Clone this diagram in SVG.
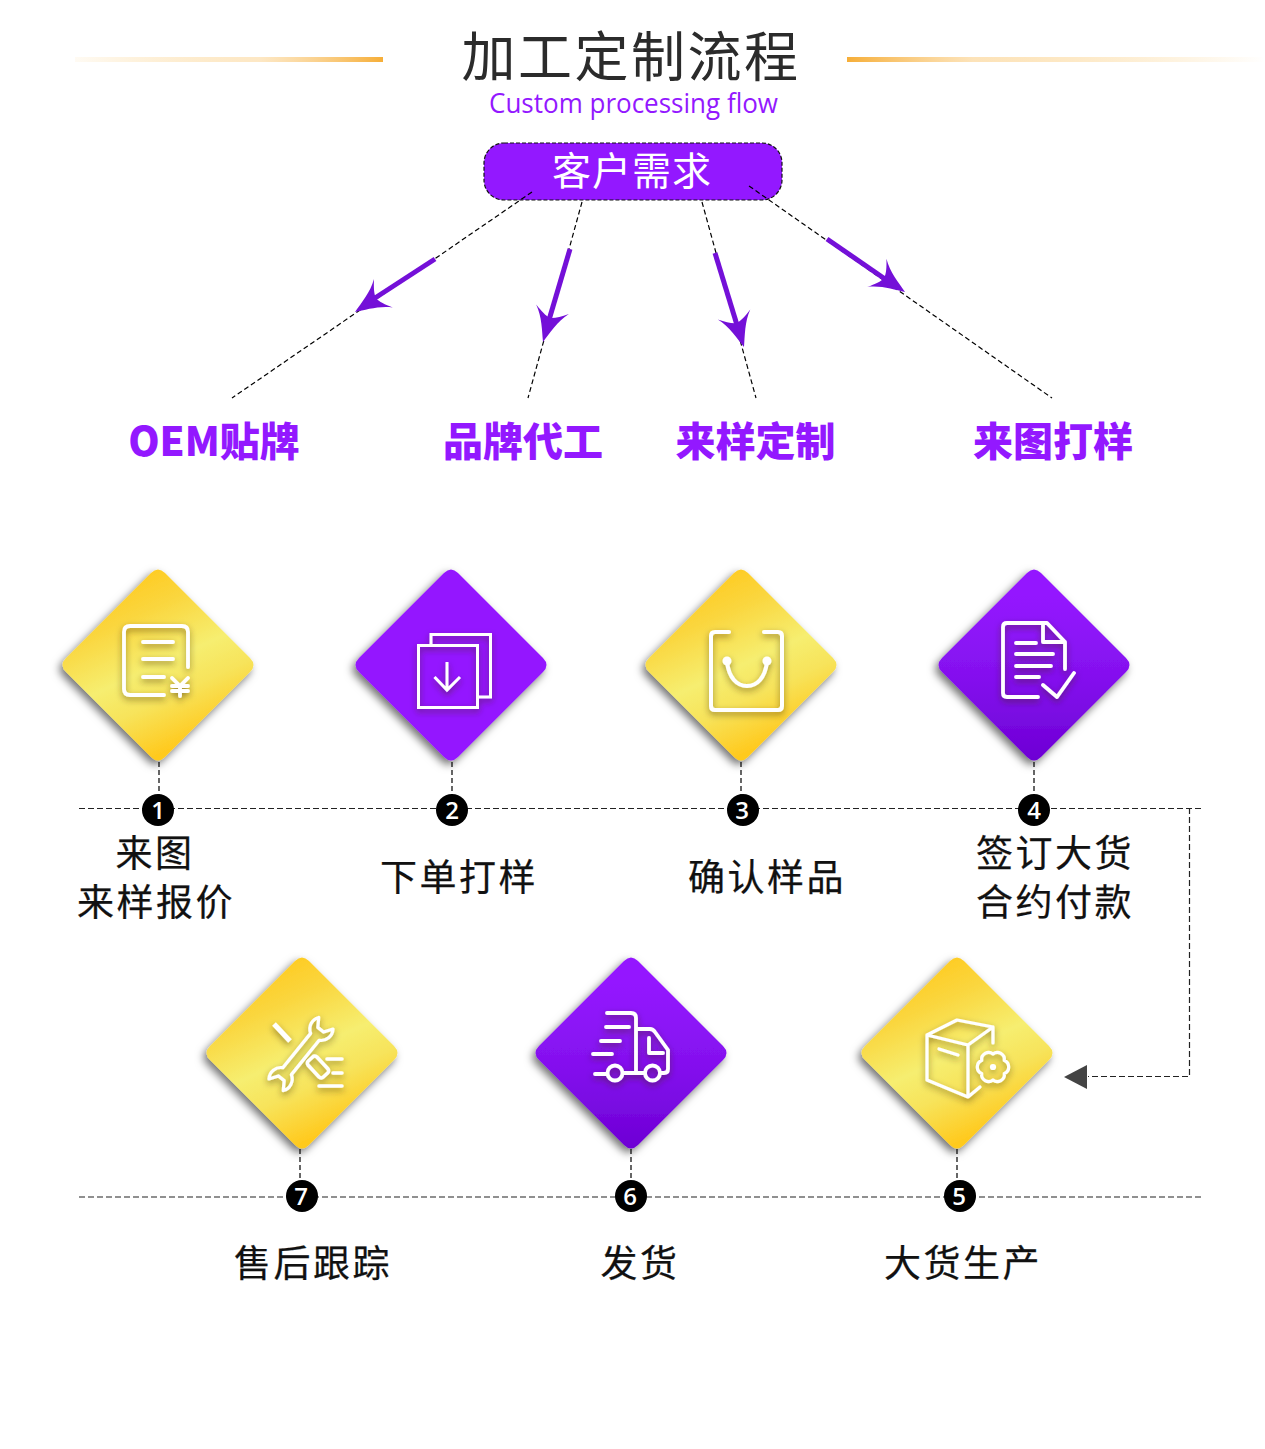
<svg xmlns="http://www.w3.org/2000/svg" xmlns:xlink="http://www.w3.org/1999/xlink" width="1265" height="1449" viewBox="0 0 1265 1449">
<style>
text{font-family:"Noto Sans CJK SC","Noto Sans",sans-serif}
.dash{fill:none;stroke:#000;stroke-width:1.200;stroke-dasharray:5 3}
.dashg{fill:none;stroke:#222;stroke-width:1.200;stroke-dasharray:6 3}
.lbl{font-size:37px;letter-spacing:2.500px;fill:#111;text-anchor:middle;stroke:#111;stroke-width:.25}
.pur{font-size:40px;font-weight:900;fill:#9318ff;text-anchor:middle}
.num{font-family:"Open Sans",sans-serif;font-size:24px;font-weight:600;fill:#fff;text-anchor:middle}
.ic{fill:none;stroke:#fff;stroke-width:3.800;stroke-linecap:round;stroke-linejoin:round;filter:url(#ish)}
</style>
<defs>
<linearGradient id="gl" x1="0" x2="1" y1="0" y2="0"><stop offset="0" stop-color="#f8b53c" stop-opacity="0.06"/><stop offset="0.6" stop-color="#fbd08a" stop-opacity=".5"/><stop offset="1" stop-color="#f6ae38"/></linearGradient>
<linearGradient id="gr" x1="0" x2="1" y1="0" y2="0"><stop offset="0" stop-color="#f6ae38"/><stop offset="0.3" stop-color="#fbd08a" stop-opacity=".6"/><stop offset="1" stop-color="#f8b53c" stop-opacity="0"/></linearGradient>
<linearGradient id="yel" gradientUnits="userSpaceOnUse" x1="-40" y1="-88" x2="40" y2="88"><stop offset="0" stop-color="#ffca1f"/><stop offset="0.22" stop-color="#fad63e"/><stop offset="0.5" stop-color="#f6ee70"/><stop offset="0.68" stop-color="#f7e35a"/><stop offset="0.92" stop-color="#ffca1f"/></linearGradient>
<linearGradient id="pg" gradientUnits="userSpaceOnUse" x1="0" y1="-70" x2="0" y2="96"><stop offset="0" stop-color="#9419ff"/><stop offset="0.5" stop-color="#8410ee"/><stop offset="1" stop-color="#6d00d4"/></linearGradient>
<path id="dia" d="M-7,-92Q0,-99 7,-92L92,-7Q99,0 92,7L7,92Q0,99 -7,92L-92,7Q-99,0 -92,-7Z"/>
<path id="head" d="M0,0C-10,-4 -24,-8 -34,-17C-29,-10 -26,-5 -25,0C-26,5 -29,10 -34,17C-24,8 -10,4 0,0Z" fill="#7410d8"/>
<filter id="dsh" x="-20%" y="-20%" width="140%" height="140%"><feDropShadow dx="-3" dy="4" stdDeviation="4" flood-color="#000" flood-opacity=".55"/></filter>
<filter id="ish" x="-30%" y="-30%" width="160%" height="160%"><feGaussianBlur stdDeviation=".3" result="b"/><feDropShadow in="b" dx="0" dy="3" stdDeviation="3" flood-color="#3a2a00" flood-opacity=".5"/></filter>
</defs>

<rect x="75" y="57" width="308" height="5" fill="url(#gl)"/>
<rect x="847" y="57" width="418" height="5" fill="url(#gr)"/>
<text x="631" y="77" font-size="54" letter-spacing="2.500" fill="#2b2b2b" text-anchor="middle">加工定制流程</text>
<text x="633.500" y="113" font-size="27" fill="#9318ff" text-anchor="middle" textLength="289" lengthAdjust="spacingAndGlyphs" style="font-family:'Open Sans',sans-serif">Custom processing flow</text>

<g id="node-demand">
<rect x="484" y="143" width="298" height="57" rx="20" fill="#9318ff" stroke="#111" stroke-width="1.200" stroke-dasharray="4 2"/>
<text x="632" y="185" font-size="39" letter-spacing="1" fill="#fff" text-anchor="middle">客户需求</text>
</g>

<g id="connectors">
<path class="dash" d="M532,192L232,398"/>
<path class="dash" d="M582,202L528,398"/>
<path class="dash" d="M702,202L756,398"/>
<path class="dash" d="M749,186L1052,398"/>
<path class="dashg" d="M79,808.500H1202"/>
<path class="dashg" d="M79,1197H1202"/>
<path class="dash" d="M159,762V795M452,762V795M741,762V795M1034,762V795M300,1149V1183M631,1149V1183M957,1149V1183"/>
<path class="dashg" d="M1189.500,808V1076.500H1088"/>
<path d="M1064,1077L1087,1065V1089Z" fill="#444"/>
<g stroke="#7410d8" stroke-width="5">
<path d="M435,259L375,298"/><path d="M570,249L549,320"/><path d="M715,253L737,325"/><path d="M827,239L885,279"/>
</g>
<use xlink:href="#head" href="#head" transform="translate(355,312) rotate(146.500)"/>
<use xlink:href="#head" href="#head" transform="translate(543,342) rotate(106.200)"/>
<use xlink:href="#head" href="#head" transform="translate(744,347) rotate(72.900)"/>
<use xlink:href="#head" href="#head" transform="translate(905,292) rotate(34.200)"/>
</g>

<g id="label-oem"><text class="pur" x="214" y="456">OEM贴牌</text></g>
<g id="label-brand"><text class="pur" x="523" y="456">品牌代工</text></g>
<g id="label-sample"><text class="pur" x="755.500" y="456">来样定制</text></g>
<g id="label-drawing"><text class="pur" x="1053" y="456">来图打样</text></g>

<g id="step-1">
<use xlink:href="#dia" href="#dia" transform="translate(158,665)" fill="url(#yel)" filter="url(#dsh)"/>
<g class="ic"><path d="M188,667V632Q188,626 182,626H130Q124,626 124,632V689Q124,695 130,695H164M143,642H173M143,659H173M143,677H164M172,678L180,686L188,678M180,686V696M172,686H188M172,691H188"/></g>
<circle cx="158" cy="810" r="16" fill="#000"/><text class="num" x="158" y="819">1</text>
<text class="lbl" x="155" y="867">来图</text><text class="lbl" x="156" y="916">来样报价</text>
</g>
<g id="step-2">
<use xlink:href="#dia" href="#dia" transform="translate(451,665)" fill="#9419ff" filter="url(#dsh)"/>
<g class="ic" style="stroke-linecap:butt;stroke-linejoin:miter;stroke-width:3"><path d="M431,645V634.500H490.500V697H478M418.500,645.500H477.500V707.500H418.500ZM447,662V690M434.500,677L447,690L460,677"/></g>
<circle cx="452" cy="810" r="16" fill="#000"/><text class="num" x="452" y="819">2</text>
<text class="lbl" x="459" y="891">下单打样</text>
</g>
<g id="step-3">
<use xlink:href="#dia" href="#dia" transform="translate(741,665)" fill="url(#yel)" filter="url(#dsh)"/>
<g class="ic" style="stroke-width:4"><path d="M729,632H715Q711,632 711,636V706Q711,710 715,710H778Q782,710 782,706V636Q782,632 778,632H764M727,662C729,678 737,686 747,686C757,686 765,678 767,662"/><circle cx="727" cy="661" r="2.500" fill="#fff"/><circle cx="767" cy="661" r="2.500" fill="#fff"/></g>
<circle cx="743" cy="810" r="16" fill="#000"/><text class="num" x="742" y="819">3</text>
<text class="lbl" x="767" y="891">确认样品</text>
</g>
<g id="step-4">
<use xlink:href="#dia" href="#dia" transform="translate(1034,665)" fill="url(#pg)" filter="url(#dsh)"/>
<g class="ic"><path d="M1065,669V642L1047,623H1007Q1003,623 1003,627V693Q1003,697 1007,697H1038M1043,623V642H1065M1016,643H1036M1016,654H1053M1016,666H1051M1016,677H1039M1043,685L1057,697L1074,673"/></g>
<circle cx="1034" cy="810" r="16" fill="#000"/><text class="num" x="1034" y="819">4</text>
<text class="lbl" x="1055" y="867">签订大货</text><text class="lbl" x="1055" y="916">合约付款</text>
</g>
<g id="step-5">
<use xlink:href="#dia" href="#dia" transform="translate(957,1053)" fill="url(#yel)" filter="url(#dsh)"/>
<g class="ic" style="stroke-width:3.200"><path d="M993,1043V1027L957,1020L927,1035V1080L968,1097L980,1087M927,1035L968,1045V1097M968,1045L993,1027M939,1049L958,1055"/><path transform="translate(993,1067)" d="M11.300,-6.500A7,7 0 0 1 11.300,6.500A7,7 0 0 1 0,13A7,7 0 0 1 -11.300,6.500A7,7 0 0 1 -11.300,-6.500A7,7 0 0 1 0,-13A7,7 0 0 1 11.300,-6.500Z"/><circle cx="993" cy="1067" r="1.500" fill="#fff"/></g>
<circle cx="960" cy="1196" r="16" fill="#000"/><text class="num" x="959" y="1205">5</text>
<text class="lbl" x="963" y="1277">大货生产</text>
</g>
<g id="step-6">
<use xlink:href="#dia" href="#dia" transform="translate(631,1053)" fill="url(#pg)" filter="url(#dsh)"/>
<g class="ic"><path d="M607,1013H631Q636,1013 636,1018V1073M636,1029H650Q653,1029 655,1032L668,1050V1069Q668,1073 664,1073H661M649,1038V1053H663M606,1027H629M601,1041H620M593,1054H612M595,1074H607M623,1073H644"/><circle cx="615" cy="1073" r="7.500"/><circle cx="652.500" cy="1073" r="7.500"/></g>
<circle cx="631" cy="1196" r="16" fill="#000"/><text class="num" x="630" y="1205">6</text>
<text class="lbl" x="640" y="1277">发货</text>
</g>
<g id="step-7">
<use xlink:href="#dia" href="#dia" transform="translate(302,1053)" fill="url(#yel)" filter="url(#dsh)"/>
<g class="ic" style="stroke-width:3.500"><path d="M327,1059H342M333,1073H342M319,1086H342"/><path style="stroke-width:5;stroke-linecap:butt" d="M274,1024L290,1041"/><path transform="translate(301,1054) rotate(-51) scale(.92)" d="M-24,-6A13,13 0 0 0 -43,-10L-34,-4V4L-43,10A13,13 0 0 0 -24,6H24A13,13 0 0 0 43,10L34,4V-4L43,-10A13,13 0 0 0 24,-6Z"/><rect x="-11" y="-6" width="22" height="12" rx="3" transform="translate(318,1067) rotate(47)"/></g>
<circle cx="302" cy="1196" r="16" fill="#000"/><text class="num" x="301" y="1205">7</text>
<text class="lbl" x="313" y="1277">售后跟踪</text>
</g>
</svg>
